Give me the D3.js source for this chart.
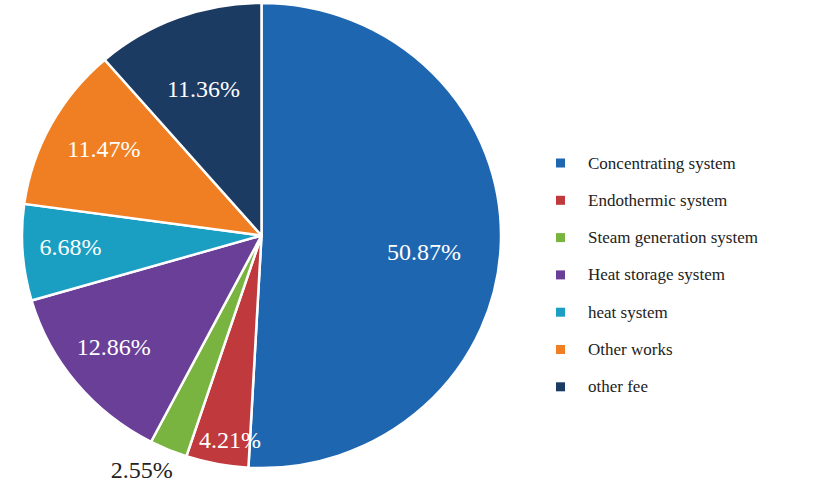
<!DOCTYPE html>
<html>
<head>
<meta charset="utf-8">
<script src="https://cdn.jsdelivr.net/npm/d3@7"></script>
<style>
  html, body { margin: 0; padding: 0; background: #ffffff; }
  svg { display: block; }
</style>
</head>
<body>
<svg id="chart" width="818" height="486"></svg>
<script>
// Cost composition of the plant
const categories = [
  "Concentrating system",
  "Endothermic system",
  "Steam generation system",
  "Heat storage system",
  "heat system",
  "Other works",
  "other fee"
];
const shares = [50.87, 4.21, 2.55, 12.86, 6.68, 11.47, 11.36];
const colors = ["#1f66b0", "#c0393d", "#78b43f", "#6a3f97", "#1a9fc2", "#ef7f22", "#1c3b63"];

// label placement: radial fraction of the radius and angular nudge (degrees) per slice
const labelRadius = [0.682, 0.889, 1.126, 0.781, 0.799, 0.756, 0.675];
const labelNudge  = [4.4, -2.2, 3.5, 1.5, 0.65, 1.0, -0.6];

const svg = d3.select("#chart");
const cx = 261.5, cy = 235.5, rx = 239.5, ry = 232.5;
const font = "'Liberation Serif', 'Times New Roman', serif";

const pie = d3.pie().sort(null).value(d => d)(shares);
const arc = d3.arc().innerRadius(0).outerRadius(rx);

const g = svg.append("g")
  .attr("transform", `translate(${cx},${cy}) scale(1,${ry / rx})`);

g.selectAll("path")
  .data(pie)
  .join("path")
  .attr("d", arc)
  .attr("fill", (d, i) => colors[i])
  .attr("stroke", "#ffffff")
  .attr("stroke-width", 2.5)
  .attr("stroke-linejoin", "round");

const labelAngle = (d, i) => (d.startAngle + d.endAngle) / 2 + labelNudge[i] * Math.PI / 180;

// percentage labels
svg.append("g")
  .selectAll("text")
  .data(pie)
  .join("text")
  .attr("x", (d, i) => cx + Math.sin(labelAngle(d, i)) * rx * labelRadius[i])
  .attr("y", (d, i) => cy - Math.cos(labelAngle(d, i)) * ry * labelRadius[i])
  .attr("text-anchor", "middle")
  .attr("dominant-baseline", "central")
  .attr("font-family", font)
  .attr("font-size", 24)
  .attr("fill", (d, i) => labelRadius[i] > 1 ? "#222222" : "#ffffff")
  .text(d => d.data.toFixed(2) + "%");

// legend
const legend = svg.append("g").attr("transform", "translate(556,163)");
const rowStep = 37.3;
const item = legend.selectAll("g")
  .data(categories)
  .join("g")
  .attr("transform", (d, i) => `translate(0,${i * rowStep})`);

item.append("rect")
  .attr("x", 0).attr("y", -4.5)
  .attr("width", 9).attr("height", 9)
  .attr("fill", (d, i) => colors[i]);

item.append("text")
  .attr("x", 32)
  .attr("y", 0)
  .attr("dominant-baseline", "central")
  .attr("font-family", font)
  .attr("font-size", 17)
  .attr("fill", "#222222")
  .text(d => d);
</script>
</body>
</html>
